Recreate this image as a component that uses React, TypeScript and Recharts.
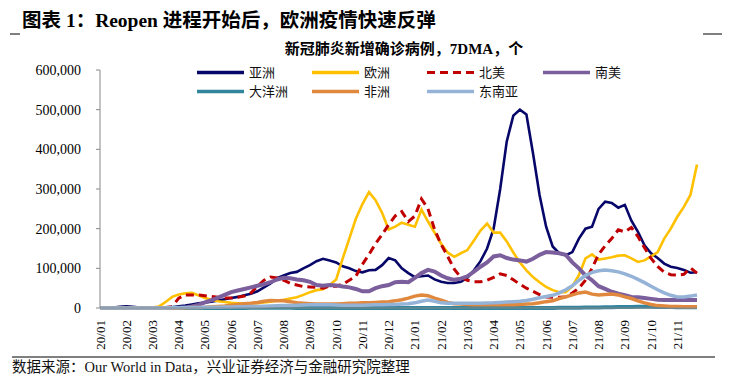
import React from "react";
import { LineChart, Line, XAxis, YAxis } from "recharts";

// samples every quarter month from 2020-01-01, values in thousands (7DMA)
const monthLabels = [
  "20/01", "20/02", "20/03", "20/04", "20/05", "20/06", "20/07", "20/08", "20/09", "20/10", "20/11", "20/12",
  "21/01", "21/02", "21/03", "21/04", "21/05", "21/06", "21/07", "21/08", "21/09", "21/10", "21/11",
];

const asia = [
  0, 0, 1, 3, 4, 3, 1, 0.5, 0.5, 0.5,
  1, 2, 4, 6, 9, 12, 14, 16, 19, 22,
  25, 28, 32, 36, 42, 52, 62, 75, 82, 88,
  91, 100, 108, 118, 124, 120, 115, 105, 100, 93,
  90, 95, 96, 108, 126, 120, 100, 88, 78, 80,
  82, 72, 66, 63, 63, 66, 76, 95, 118, 150,
  200, 300, 420, 485, 500, 488, 390, 285, 205, 155,
  138, 133, 141, 175, 200, 205, 250, 268, 265, 253,
  260, 220, 192, 158, 138, 126, 112, 104, 101, 96,
  89, 90,
];

const europe = [
  0, 0, 0, 0, 0, 0, 0, 0, 1, 4,
  15, 28, 34, 37, 38, 32, 25, 21, 17, 15,
  13, 12, 12, 12, 12, 14, 16, 19, 21, 24,
  27, 33, 40, 45, 47, 58, 72, 125, 175, 225,
  262, 292, 272, 240, 198, 205, 215, 210, 205, 248,
  218, 190, 162, 140, 129, 138, 146, 170, 195, 213,
  190, 190, 168, 140, 115, 95, 78, 65, 53, 45,
  40, 40, 55, 83, 125, 135, 122, 125, 128, 132,
  133, 125, 116, 120, 130, 141, 175, 200, 230, 255,
  285, 362,
];

const northAmerica = [
  0, 0, 0, 0, 0, 0, 0, 0, 0, 0.5,
  1, 3, 25, 33, 33, 33, 31, 29, 27, 25,
  25, 27, 30, 38, 55, 70, 78, 76, 70, 62,
  58, 54, 53, 52, 50, 55, 55, 60, 70, 80,
  110, 135, 162, 185, 210, 232, 243, 218, 232, 275,
  250, 198, 160, 130, 98, 77, 70, 66, 66, 70,
  77, 86, 82, 71, 60, 50, 42, 34, 28, 27,
  27, 28, 38, 50, 70, 100, 135, 157, 175, 197,
  192, 203, 180, 152, 125, 105, 90, 84, 83, 85,
  101, 88,
];

const southAmerica = [
  0, 0, 0, 0, 0, 0, 0, 0, 0, 0,
  0, 0, 0, 1, 4, 8, 14, 20, 26, 33,
  40, 44, 48, 52, 56, 60, 65, 72, 76, 75,
  72, 70, 66, 58, 56, 58, 57, 54, 52, 48,
  42, 42, 50, 55, 58, 65, 66, 65, 76, 88,
  96, 92, 82, 75, 71, 74, 80, 92, 104, 115,
  130, 133, 126, 122, 120, 117, 124, 134, 141, 140,
  138, 134, 115, 100, 82, 70, 55, 48, 41, 36,
  32, 28, 27, 25, 23, 21, 20, 20, 20, 20,
  20, 20,
];

const oceania = [
  0, 0, 0, 0, 0, 0, 0, 0, 0, 0.2,
  0.3, 0.4, 0.4, 0.3, 0.2, 0.2, 0.2, 0.2, 0.2, 0.2,
  0.2, 0.2, 0.3, 0.4, 0.5, 0.5, 0.6, 0.6, 0.5, 0.4,
  0.3, 0.2, 0.2, 0.2, 0.2, 0.2, 0.2, 0.2, 0.2, 0.2,
  0.2, 0.2, 0.2, 0.2, 0.2, 0.2, 0.2, 0.2, 0.2, 0.2,
  0.2, 0.2, 0.2, 0.2, 0.2, 0.2, 0.2, 0.2, 0.2, 0.2,
  0.2, 0.2, 0.2, 0.2, 0.2, 0.2, 0.2, 0.2, 0.3, 0.3,
  0.4, 0.5, 0.6, 0.8, 1, 1.2, 1.5, 1.8, 2, 2.3,
  2.5, 2.8, 3, 3, 3, 2.8, 2.5, 2.3, 2, 2,
  2, 2,
];

const africa = [
  0, 0, 0, 0, 0, 0, 0, 0, 0, 0,
  0, 0, 0, 0.5, 1, 1.5, 2, 3, 4, 5,
  7, 9, 11, 12, 14, 17, 19, 18, 18, 16,
  13, 12, 11, 10, 10, 10, 10, 11, 12, 12,
  13, 13, 14, 15, 16, 18, 21, 25, 30, 33,
  31, 25, 20, 14, 11, 10, 9, 8, 8, 8,
  8, 8, 8, 8.5, 9, 10, 11, 13, 16, 18,
  24, 28, 33, 38, 40, 35, 33, 34, 35, 33,
  28, 24, 18, 13, 9, 6, 5, 4, 3.5, 3,
  3, 3,
];

const southeastAsia = [
  0, 0, 0, 0, 0, 0, 0, 0, 0, 0.2,
  0.3, 0.5, 0.8, 1, 1.2, 1.5, 2, 2, 2.2, 2.5,
  2.5, 3, 3, 3.5, 4, 4.5, 5, 5.5, 6, 6.5,
  7, 7.5, 8, 8, 8, 8, 7.5, 7, 7, 7,
  7, 7.5, 8, 8, 9, 9, 10, 11, 13, 17,
  20, 17, 13, 12, 12, 12, 12, 12, 12, 12.5,
  13, 14, 15, 16, 17, 19, 22, 26, 29, 32,
  38, 46, 56, 70, 82, 90, 94, 96, 94, 91,
  86, 80, 72, 64, 55, 46, 38, 32, 28, 28,
  30, 33,
];

const series = [
  { key: "asia", name: "亚洲", color: "#07076A", width: 2.6, dash: undefined, values: asia },
  { key: "europe", name: "欧洲", color: "#FFC000", width: 2.6, dash: undefined, values: europe },
  { key: "na", name: "北美", color: "#C00000", width: 3, dash: "8 5", values: northAmerica },
  { key: "sa", name: "南美", color: "#7B5E9C", width: 4, dash: undefined, values: southAmerica },
  { key: "oc", name: "大洋洲", color: "#31859C", width: 4, dash: undefined, values: oceania },
  { key: "af", name: "非洲", color: "#E0893E", width: 3.5, dash: undefined, values: africa },
  { key: "sea", name: "东南亚", color: "#95B3D7", width: 3.5, dash: undefined, values: southeastAsia },
];

const data = asia.map((_, i) => {
  const row: Record<string, number> = { t: i / 4 };
  series.forEach((s) => (row[s.key] = s.values[i]));
  return row;
});

const yTicks = [0, 100, 200, 300, 400, 500, 600];
const monthTicks = monthLabels.map((_, i) => i);

const serif = "'Liberation Serif', 'Times New Roman', serif";
const cjk = "'Liberation Serif', 'Noto Sans CJK SC', sans-serif";

function MonthTick({ x, y, payload }: any) {
  return (
    <text
      transform={`translate(${x + 4.5},${y}) rotate(-90)`}
      textAnchor="end"
      fontSize={13}
      fontFamily={serif}
      fill="#000"
    >
      {monthLabels[payload.value]}
    </text>
  );
}

const legendCols = [197, 312, 427, 543];
const legendRows = [72.5, 91.5];

export default function App() {
  return (
    <div style={{ position: "absolute", left: 0, top: 0, width: 729, height: 378, background: "#fff", overflow: "hidden" }}>
      <LineChart width={729} height={378} data={data} margin={{ top: 70, right: 32, bottom: 25, left: 40 }}>
        <XAxis
          dataKey="t"
          type="number"
          domain={[0, 22.75]}
          ticks={monthTicks}
          tick={<MonthTick />}
          tickLine={false}
          tickSize={0}
          tickMargin={12}
          height={45}
          stroke="#888"
          interval={0}
        />
        <YAxis
          domain={[0, 600]}
          ticks={yTicks}
          width={60}
          tickSize={4}
          tickMargin={15}
          stroke="#888"
          tick={{ fill: "#000", fontSize: 14, fontFamily: serif }}
          tickFormatter={(v: number) => (v === 0 ? "0" : `${v},000`)}
        />
        {series.map((s) => (
          <Line
            key={s.key}
            dataKey={s.key}
            type="linear"
            stroke={s.color}
            strokeWidth={s.width}
            strokeDasharray={s.dash}
            dot={false}
            isAnimationActive={false}
          />
        ))}
      </LineChart>
      <svg width={729} height={378} style={{ position: "absolute", left: 0, top: 0, pointerEvents: "none" }}>
        <line x1={10} x2={20} y1={34} y2={34} stroke="#000" strokeWidth={1} />
        <line x1={703} x2={722} y1={34} y2={34} stroke="#000" strokeWidth={1} />
        <text x={22} y={27} fontSize={19.5} fontWeight="bold" fontFamily={cjk} fill="#000">
          图表 1：Reopen 进程开始后，欧洲疫情快速反弹
        </text>
        <text x={404} y={54} fontSize={15} fontWeight="bold" fontFamily={cjk} fill="#000" textAnchor="middle">
          新冠肺炎新增确诊病例，7DMA，个
        </text>
        {series.map((s, i) => {
          const x = legendCols[i % 4];
          const y = legendRows[Math.floor(i / 4)];
          return (
            <g key={s.key}>
              <line x1={x} x2={x + 47} y1={y} y2={y} stroke={s.color} strokeWidth={s.dash ? 3 : 3.5} strokeDasharray={s.dash} />
              <text x={x + 52} y={y + 4.5} fontSize={13} fontFamily="'Noto Sans CJK SC', sans-serif" fill="#111">
                {s.name}
              </text>
            </g>
          );
        })}
        <line x1={12} x2={715} y1={357} y2={357} stroke="#000" strokeWidth={1} />
        <text x={12} y={372} fontSize={14.5} fontFamily={cjk} fill="#111">
          数据来源：Our World in Data，兴业证券经济与金融研究院整理
        </text>
      </svg>
    </div>
  );
}
